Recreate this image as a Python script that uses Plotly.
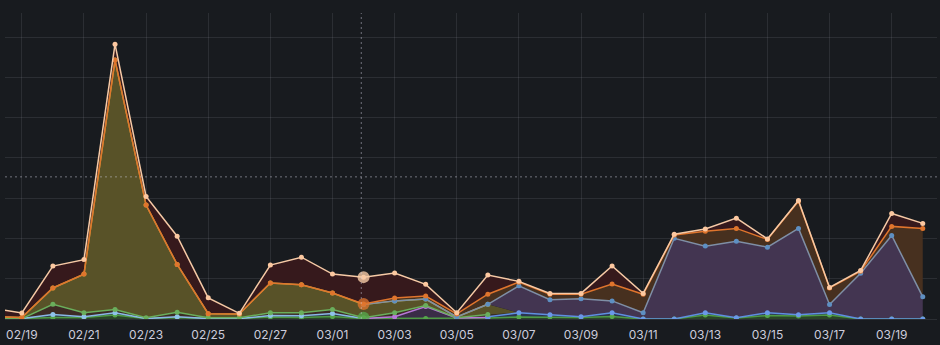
import numpy as np
import pandas as pd
import plotly.graph_objects as go

# Daily points (one per day, midnight)
dates = pd.date_range("2025-02-18", "2025-03-20", freq="D").strftime("%Y-%m-%d").tolist()

# Stacked series, bottom to top. None = no sample for that day.
forest = [0.1, 0.1, 0.4, 0.4, 1.0, 0.1, 0.35, 0.1, 0.1, 0.5, 0.4, 0.6, 0.1, 0.1, 0.1, 0.1,
          0.25, 0.5, 0.5, 0.35, 0.6, 0, 0, 1.0, 0.25, 0.85, 0.75, 1.0, 0, 0, 0]
sky = [0.1, 0.0, 0.7, 0.15, 0.55, 0.0, 0.2, 0.0, 0.0, 0.35, 0.4, 0.75, 0.0] + [None] * 18
violet = [None] * 12 + [0.0, 0.45, 3.0, 0.15, 0.1] + [None] * 14
blue = [None] * 16 + [0.2, 1.05, 0.55, 0.2, 0.95, 0, 0, 0.55, 0.05, 0.7, 0.3, 0.55, 0, 0, 0]
green = [0.1, 0.0, 2.55, 1.0, 0.8, 0.2, 1.15, 0.2, 0.2, 0.7, 0.75, 1.0, 0.2, 1.0, 0.25,
         0.05, 0.55] + [None] * 14
yellow = [0.3, 0.25, 4.05, 9.6, 61.95, 28.0, 11.85, 1.0, 0.95, 7.4, 6.95, 4.1, 3.3, 2.95,
          1.6, 0.2, 2.55] + [None] * 14
purple = [None] * 12 + [0.0, 0.0, 0.0, 0.0, 0.0, 6.7, 3.75, 4.45, 2.95, 1.55, 20.05, 16.55,
                        19.0, 16.3, 21.45, 2.05, 11.35, 20.75, 5.5]
orange = [0] * 12 + [0.15, 0.7, 0.75, 0.75, 2.5, 0.9, 1.35, 1.15, 4.2, 4.6, 0.8, 3.7, 3.2,
                     1.9, 6.75, 4.1, 0.5, 2.25, 17.0]
peach = [2.1, 1.15, 5.45, 3.6, 3.95, 2.15, 7.0, 3.95, 0.15, 4.45, 6.85, 4.7, 6.65, 6.2, 2.9,
         0.3, 4.75, 0.2, 0.2, 0.2, 4.45, 0.2, 0.2, 0.55, 2.55, 0.15, 0.2, 0.15, 0.2, 3.2, 1.25]

hover_day = "2025-03-02"
cursor_time = "2025-03-01 22:14"
cursor_value = 35.3

BG = "#181b1f"
GRID = "rgba(204,204,220,0.11)"

# name, values, line colour, marker colour, fill colour
stack = [
    ("forest", forest, "#4e9a45", "#56a64b", "#2b4629"),
    ("sky", sky, "#8ab8e6", "#8fc3ea", "#2f3a48"),
    ("violet", violet, "#b877d9", "#b877d9", "#3a2c47"),
    ("blue", blue, "#5f8fe0", "#6a98e8", "#2b3550"),
    ("green", green, "#6aae5c", "#6aae5c", "#3d2b25"),
    ("yellow", yellow, "#b7a53a", "#c9b43a", "#585228"),
    ("purple", purple, "#7f8fa6", "#5e8fc2", "#433551"),
    ("orange", orange, "#e0752d", "#e0752d", "#47301f"),
    ("peach", peach, "#f6caa6", "#fcc8a0", "#36191c"),
]

vals = [np.array([np.nan if v is None else v for v in s[1]], dtype=float) for s in stack]
cum = np.cumsum([np.nan_to_num(v) for v in vals], axis=0)

fig = go.Figure()

# Filled bands between consecutive stacked levels
for i, (name, _, _, _, fillc) in enumerate(stack):
    fig.add_trace(go.Scatter(
        x=dates, y=cum[i], mode="lines", line=dict(width=0, color=fillc),
        fill="tozeroy" if i == 0 else "tonexty", fillcolor=fillc,
        hoverinfo="skip", showlegend=False))

# Series lines with point markers, drawn only where the series has samples
for i, (name, _, linec, markc, _) in enumerate(stack):
    y = [None if np.isnan(v) else c for v, c in zip(vals[i], cum[i])]
    fig.add_trace(go.Scatter(
        x=dates, y=y, mode="lines+markers", name=name,
        line=dict(width=1.5, color=linec),
        marker=dict(size=5, color=markc),
        hoverinfo="skip", showlegend=False))

# Highlighted points under the cursor
hi = dates.index(hover_day)
idx = {s[0]: k for k, s in enumerate(stack)}
hl = [("green", "rgba(86,166,75,0.8)"), ("orange", "rgba(224,117,45,0.75)"),
      ("peach", "rgba(246,202,166,0.8)")]
fig.add_trace(go.Scatter(
    x=[hover_day] * len(hl), y=[cum[idx[n]][hi] for n, _ in hl], mode="markers",
    marker=dict(size=12, color=[c for _, c in hl]),
    hoverinfo="skip", showlegend=False))

# Crosshair
fig.add_shape(type="line", xref="x", yref="paper", x0=cursor_time, x1=cursor_time, y0=0, y1=1,
              line=dict(color="rgba(204,204,220,0.5)", width=1, dash="2px,3px"))
fig.add_shape(type="line", xref="paper", yref="y", x0=0, x1=1, y0=cursor_value, y1=cursor_value,
              line=dict(color="rgba(204,204,220,0.5)", width=1, dash="2px,3px"))

fig.update_layout(
    width=940, height=345,
    margin=dict(l=5, r=3, t=13, b=24),
    paper_bgcolor=BG, plot_bgcolor=BG,
    font=dict(family="Inter", size=12, color="#ccccdc"),
    xaxis=dict(
        range=["2025-02-18 11:00", "2025-03-20 11:00"],
        tick0="2025-02-19", dtick=2 * 86400000, tickformat="%m/%d",
        showgrid=True, gridcolor=GRID, gridwidth=1, zeroline=False,
        showline=False, ticks="outside", ticklen=5, tickcolor="rgba(0,0,0,0)",
        tickfont=dict(size=12, color="#ccccdc"),
    ),
    yaxis=dict(
        range=[0, 76], dtick=10, showgrid=True, gridcolor=GRID, gridwidth=1,
        zeroline=True, zerolinecolor=GRID, zerolinewidth=1,
        showticklabels=False, ticks="", showline=False,
    ),
)

fig.write_html("out.html")
